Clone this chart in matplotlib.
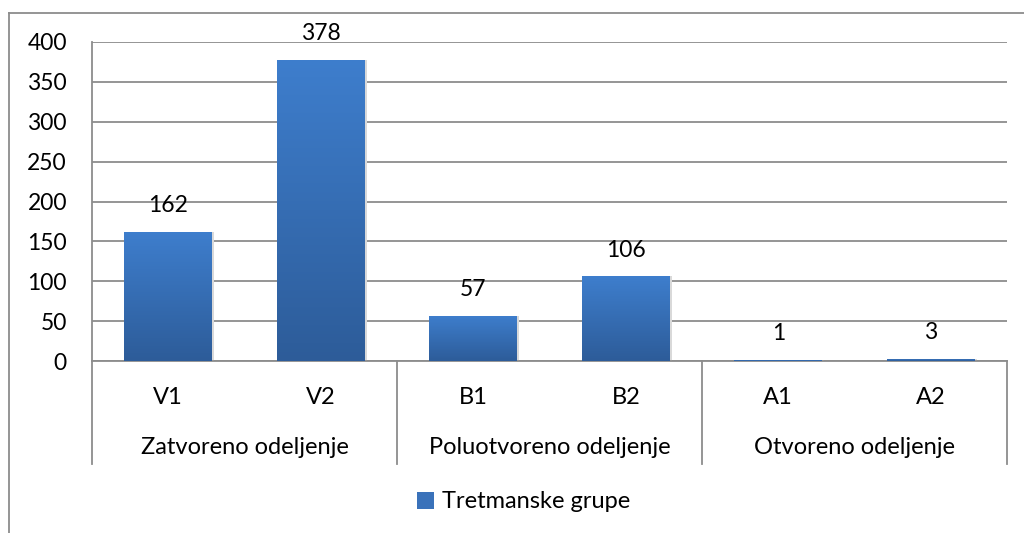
import matplotlib
matplotlib.use("Agg")
import matplotlib.pyplot as plt
import numpy as np
from matplotlib.patches import Patch, Rectangle
from matplotlib.lines import Line2D

plt.rcParams['font.family'] = ['Lato', 'DejaVu Sans']

categories = ["V1", "V2", "B1", "B2", "A1", "A2"]
groups = ["Zatvoreno odeljenje", "Poluotvoreno odeljenje", "Otvoreno odeljenje"]
group_sizes = [2, 2, 2]
values = [162, 378, 57, 106, 1, 3]
series_name = "Tretmanske grupe"
yticks = [0, 50, 100, 150, 200, 250, 300, 350, 400]

W, H = 1024, 533
fig = plt.figure(figsize=(W / 100, H / 100), dpi=100)
ax = fig.add_axes([92 / W, 1 - 361 / H, 915 / W, 319 / H])

FS_TICK = 16.5
FS_CAT = 17
grid_c = "#8c8c8c"

x = np.arange(len(categories))
bw = 0.577
bars = ax.bar(x, values, width=bw, color="#3a72ba", zorder=3)

# gradient fill
top_c = np.array([0x3e, 0x7e, 0xcd]) / 255
bot_c = np.array([0x2d, 0x5c, 0x99]) / 255
grad = np.linspace(0, 1, 256)[:, None]
img = top_c[None, None, :] * (1 - grad[:, :, None]) + bot_c[None, None, :] * grad[:, :, None]
for b, v in zip(bars, values):
    x0 = b.get_x()
    sh = Rectangle((x0 + 0.012, 0), bw, v, facecolor="#d9d9d9", edgecolor="none", zorder=2)
    ax.add_patch(sh)
    b.set_facecolor("none")
    im = ax.imshow(img, extent=(x0, x0 + bw, 0, v), aspect="auto", zorder=3, interpolation="bilinear")
    im.set_clip_path(b)
    ax.annotate(str(v), (b.get_x() + bw / 2, v), xytext=(0, 19), textcoords="offset points",
                ha="center", va="center", fontsize=FS_TICK, color="#000000")

ax.set_xlim(-0.5, len(categories) - 0.5)
ax.set_ylim(0, 400)
ax.set_yticks(yticks)
ax.set_yticklabels([str(t) for t in yticks], fontsize=FS_TICK)
ax.tick_params(axis="y", length=0, pad=18)
ax.set_xticks([])
ax.yaxis.grid(True, color=grid_c, linewidth=1.3, zorder=0)
ax.set_axisbelow(True)
for s in ["top", "right"]:
    ax.spines[s].set_visible(False)
for s in ["left", "bottom"]:
    ax.spines[s].set_color(grid_c)
    ax.spines[s].set_linewidth(1.3)

# category labels
tr = ax.get_xaxis_transform()
lab_y = -(397 - 361) / 319
grp_y = -(448 - 361) / 319
sep_y = -(464 - 361) / 319
for i, c in enumerate(categories):
    ax.text(i, lab_y, c, transform=tr, ha="center", va="center", fontsize=FS_CAT, clip_on=False)
start = 0
bounds = [-0.5]
for g, n in zip(groups, group_sizes):
    center = start + (n - 1) / 2
    ax.text(center, grp_y, g, transform=tr, ha="center", va="center", fontsize=FS_CAT, clip_on=False)
    start += n
    bounds.append(start - 0.5)
for bx in bounds:
    ax.add_line(Line2D([bx, bx], [0, sep_y], transform=tr, color=grid_c, linewidth=1.3, clip_on=False))

# legend
fig.legend(handles=[Patch(facecolor="#3a72ba", edgecolor="none", label=series_name)],
           loc="center", bbox_to_anchor=(524 / W, 1 - 502 / H), frameon=False,
           fontsize=FS_CAT, handlelength=0.7, handleheight=0.7, handletextpad=0.35)

# outer chart border (left and top visible)
fig.add_artist(Line2D([9 / W, 9 / W], [0, 1 - 13 / H], transform=fig.transFigure, color=grid_c, linewidth=1.3))
fig.add_artist(Line2D([9 / W, 1], [1 - 13 / H, 1 - 13 / H], transform=fig.transFigure, color=grid_c, linewidth=1.3))

fig.savefig("out.png", dpi=100)
